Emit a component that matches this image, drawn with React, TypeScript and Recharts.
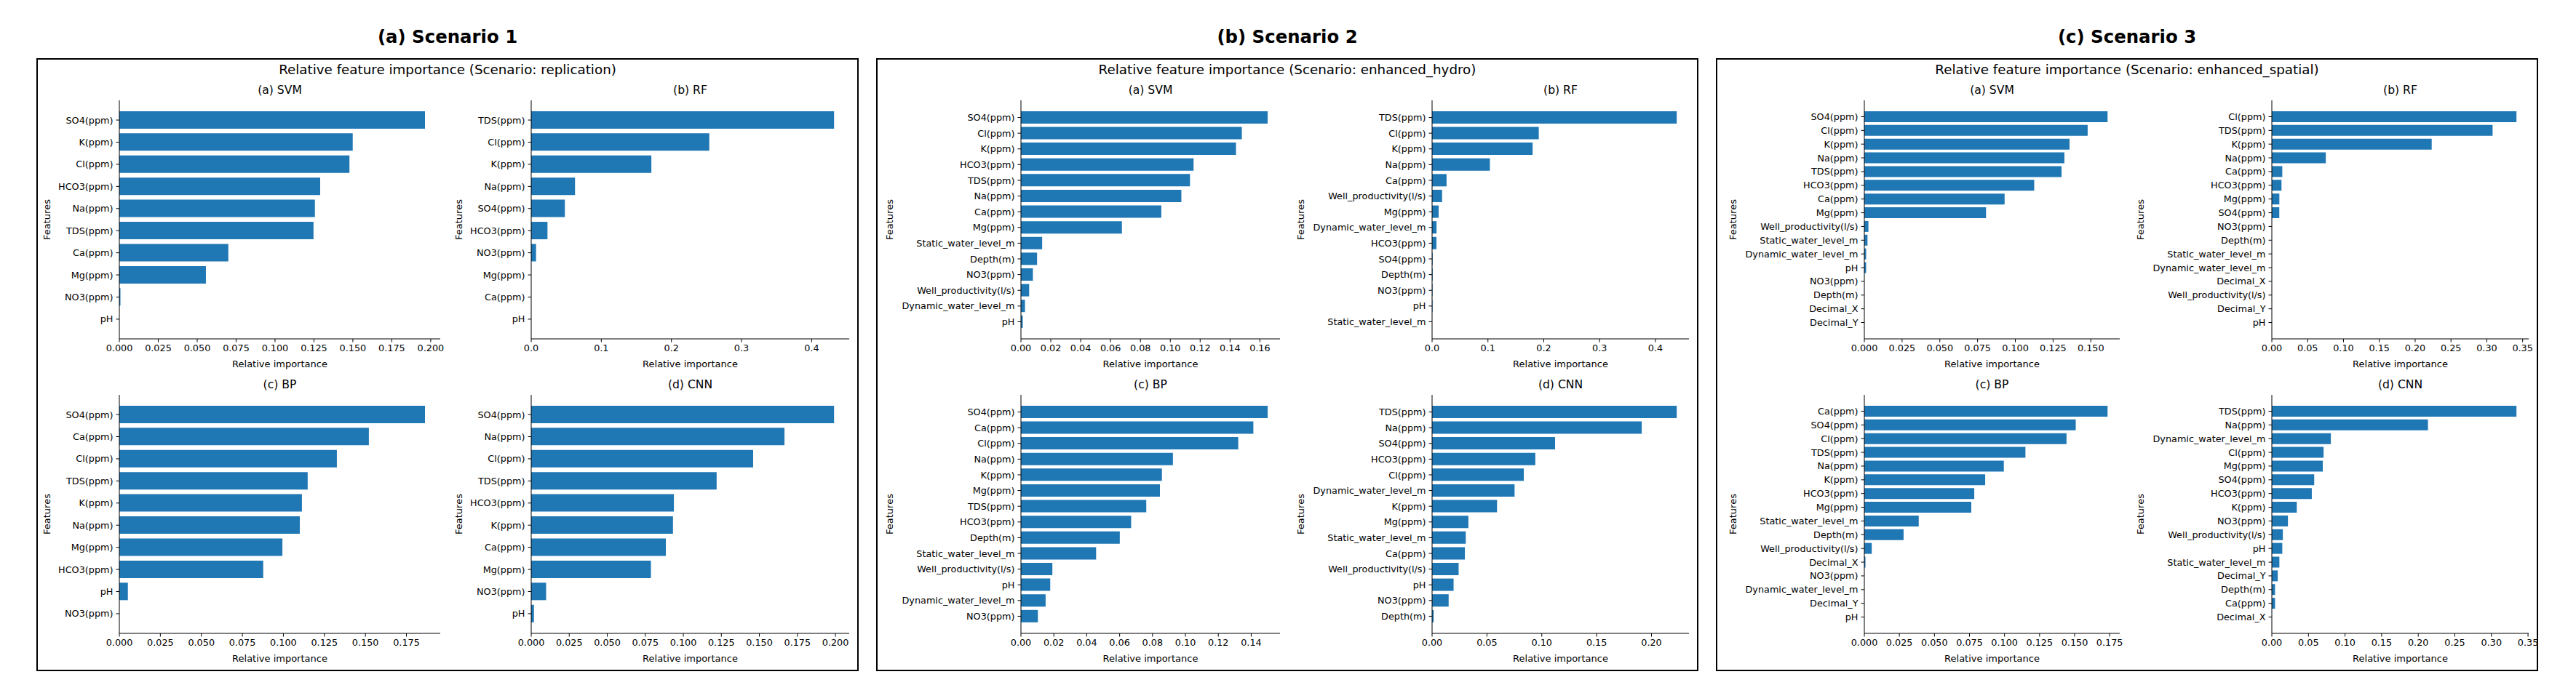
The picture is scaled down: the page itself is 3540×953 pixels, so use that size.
import React from 'react';
import { BarChart, Bar, XAxis, YAxis } from 'recharts';

// ---------- Scenario 1 (replication) ----------
const s1SvmFeatures = ['SO4(ppm)', 'K(ppm)', 'Cl(ppm)', 'HCO3(ppm)', 'Na(ppm)', 'TDS(ppm)', 'Ca(ppm)', 'Mg(ppm)', 'NO3(ppm)', 'pH'];
const s1SvmValues = [0.1963, 0.1499, 0.1478, 0.129, 0.1256, 0.1247, 0.07, 0.0556, 0.0007, 0];
const s1RfFeatures = ['TDS(ppm)', 'Cl(ppm)', 'K(ppm)', 'Na(ppm)', 'SO4(ppm)', 'HCO3(ppm)', 'NO3(ppm)', 'Mg(ppm)', 'Ca(ppm)', 'pH'];
const s1RfValues = [0.432, 0.254, 0.1714, 0.0625, 0.048, 0.0232, 0.0069, 0, 0, 0];
const s1BpFeatures = ['SO4(ppm)', 'Ca(ppm)', 'Cl(ppm)', 'TDS(ppm)', 'K(ppm)', 'Na(ppm)', 'Mg(ppm)', 'HCO3(ppm)', 'pH', 'NO3(ppm)'];
const s1BpValues = [0.1863, 0.1521, 0.1326, 0.1148, 0.1113, 0.11, 0.0994, 0.0877, 0.0052, 0];
const s1CnnFeatures = ['SO4(ppm)', 'Na(ppm)', 'Cl(ppm)', 'TDS(ppm)', 'HCO3(ppm)', 'K(ppm)', 'Ca(ppm)', 'Mg(ppm)', 'NO3(ppm)', 'pH'];
const s1CnnValues = [0.1991, 0.1665, 0.1459, 0.1219, 0.0938, 0.0932, 0.0885, 0.0787, 0.0098, 0.0018];

// ---------- Scenario 2 (enhanced_hydro) ----------
const s2SvmFeatures = ['SO4(ppm)', 'Cl(ppm)', 'K(ppm)', 'HCO3(ppm)', 'TDS(ppm)', 'Na(ppm)', 'Ca(ppm)', 'Mg(ppm)', 'Static_water_level_m', 'Depth(m)', 'NO3(ppm)', 'Well_productivity(l/s)', 'Dynamic_water_level_m', 'pH'];
const s2SvmValues = [0.1652, 0.1479, 0.144, 0.1156, 0.1132, 0.1074, 0.094, 0.0676, 0.0142, 0.0108, 0.008, 0.0055, 0.0027, 0.0012];
const s2RfFeatures = ['TDS(ppm)', 'Cl(ppm)', 'K(ppm)', 'Na(ppm)', 'Ca(ppm)', 'Well_productivity(l/s)', 'Mg(ppm)', 'Dynamic_water_level_m', 'HCO3(ppm)', 'SO4(ppm)', 'Depth(m)', 'NO3(ppm)', 'pH', 'Static_water_level_m'];
const s2RfValues = [0.438, 0.191, 0.18, 0.1035, 0.0259, 0.0179, 0.0118, 0.008, 0.0078, 0.001, 0.001, 0.0008, 0.0008, 0];
const s2BpFeatures = ['SO4(ppm)', 'Ca(ppm)', 'Cl(ppm)', 'Na(ppm)', 'K(ppm)', 'Mg(ppm)', 'TDS(ppm)', 'HCO3(ppm)', 'Depth(m)', 'Static_water_level_m', 'Well_productivity(l/s)', 'pH', 'Dynamic_water_level_m', 'NO3(ppm)'];
const s2BpValues = [0.15, 0.1413, 0.1321, 0.0924, 0.0857, 0.0845, 0.0762, 0.067, 0.0601, 0.0457, 0.0191, 0.0178, 0.015, 0.0103];
const s2CnnFeatures = ['TDS(ppm)', 'Na(ppm)', 'SO4(ppm)', 'HCO3(ppm)', 'Cl(ppm)', 'Dynamic_water_level_m', 'K(ppm)', 'Mg(ppm)', 'Static_water_level_m', 'Ca(ppm)', 'Well_productivity(l/s)', 'pH', 'NO3(ppm)', 'Depth(m)'];
const s2CnnValues = [0.223, 0.1911, 0.1121, 0.0941, 0.0836, 0.0752, 0.0592, 0.0331, 0.0307, 0.0299, 0.0242, 0.0196, 0.0151, 0.0014];

// ---------- Scenario 3 (enhanced_spatial) ----------
const s3SvmFeatures = ['SO4(ppm)', 'Cl(ppm)', 'K(ppm)', 'Na(ppm)', 'TDS(ppm)', 'HCO3(ppm)', 'Ca(ppm)', 'Mg(ppm)', 'Well_productivity(l/s)', 'Static_water_level_m', 'Dynamic_water_level_m', 'pH', 'NO3(ppm)', 'Depth(m)', 'Decimal_X', 'Decimal_Y'];
const s3SvmValues = [0.1611, 0.1479, 0.1359, 0.1325, 0.1306, 0.1125, 0.0929, 0.0806, 0.0027, 0.0021, 0.0012, 0.0012, 0, 0, 0, 0];
const s3RfFeatures = ['Cl(ppm)', 'TDS(ppm)', 'K(ppm)', 'Na(ppm)', 'Ca(ppm)', 'HCO3(ppm)', 'Mg(ppm)', 'SO4(ppm)', 'NO3(ppm)', 'Depth(m)', 'Static_water_level_m', 'Dynamic_water_level_m', 'Decimal_X', 'Well_productivity(l/s)', 'Decimal_Y', 'pH'];
const s3RfValues = [0.3414, 0.3081, 0.2231, 0.0753, 0.0146, 0.0135, 0.0105, 0.0104, 0, 0, 0, 0, 0, 0, 0, 0];
const s3BpFeatures = ['Ca(ppm)', 'SO4(ppm)', 'Cl(ppm)', 'TDS(ppm)', 'Na(ppm)', 'K(ppm)', 'HCO3(ppm)', 'Mg(ppm)', 'Static_water_level_m', 'Depth(m)', 'Well_productivity(l/s)', 'Decimal_X', 'NO3(ppm)', 'Dynamic_water_level_m', 'Decimal_Y', 'pH'];
const s3BpValues = [0.1735, 0.1508, 0.1442, 0.1149, 0.0995, 0.0862, 0.0784, 0.0763, 0.0388, 0.028, 0.0053, 0.0008, 0, 0, 0, 0];
const s3CnnFeatures = ['TDS(ppm)', 'Na(ppm)', 'Dynamic_water_level_m', 'Cl(ppm)', 'Mg(ppm)', 'SO4(ppm)', 'HCO3(ppm)', 'K(ppm)', 'NO3(ppm)', 'Well_productivity(l/s)', 'pH', 'Static_water_level_m', 'Decimal_Y', 'Depth(m)', 'Ca(ppm)', 'Decimal_X'];
const s3CnnValues = [0.3342, 0.2133, 0.0806, 0.0707, 0.0696, 0.0579, 0.0546, 0.0341, 0.022, 0.015, 0.0143, 0.0103, 0.0081, 0.0044, 0.0044, 0];

// ---------- Tick labels ----------
const s1SvmTicks = ['0.000', '0.025', '0.050', '0.075', '0.100', '0.125', '0.150', '0.175', '0.200'];
const s1RfTicks = ['0.0', '0.1', '0.2', '0.3', '0.4'];
const s1BpTicks = ['0.000', '0.025', '0.050', '0.075', '0.100', '0.125', '0.150', '0.175'];
const s1CnnTicks = ['0.000', '0.025', '0.050', '0.075', '0.100', '0.125', '0.150', '0.175', '0.200'];
const s2SvmTicks = ['0.00', '0.02', '0.04', '0.06', '0.08', '0.10', '0.12', '0.14', '0.16'];
const s2RfTicks = ['0.0', '0.1', '0.2', '0.3', '0.4'];
const s2BpTicks = ['0.00', '0.02', '0.04', '0.06', '0.08', '0.10', '0.12', '0.14'];
const s2CnnTicks = ['0.00', '0.05', '0.10', '0.15', '0.20'];
const s3SvmTicks = ['0.000', '0.025', '0.050', '0.075', '0.100', '0.125', '0.150'];
const s3RfTicks = ['0.00', '0.05', '0.10', '0.15', '0.20', '0.25', '0.30', '0.35'];
const s3BpTicks = ['0.000', '0.025', '0.050', '0.075', '0.100', '0.125', '0.150', '0.175'];
const s3CnnTicks = ['0.00', '0.05', '0.10', '0.15', '0.20', '0.25', '0.30', '0.35'];

const scenarioTitles = ['(a) Scenario 1', '(b) Scenario 2', '(c) Scenario 3'];
const scenarioNames = ['replication', 'enhanced_hydro', 'enhanced_spatial'];
const modelTitles = ['(a) SVM', '(b) RF', '(c) BP', '(d) CNN'];

const scenarios = [
  {
    features: [s1SvmFeatures, s1RfFeatures, s1BpFeatures, s1CnnFeatures],
    values: [s1SvmValues, s1RfValues, s1BpValues, s1CnnValues],
    ticks: [s1SvmTicks, s1RfTicks, s1BpTicks, s1CnnTicks],
  },
  {
    features: [s2SvmFeatures, s2RfFeatures, s2BpFeatures, s2CnnFeatures],
    values: [s2SvmValues, s2RfValues, s2BpValues, s2CnnValues],
    ticks: [s2SvmTicks, s2RfTicks, s2BpTicks, s2CnnTicks],
  },
  {
    features: [s3SvmFeatures, s3RfFeatures, s3BpFeatures, s3CnnFeatures],
    values: [s3SvmValues, s3RfValues, s3BpValues, s3CnnValues],
    ticks: [s3SvmTicks, s3RfTicks, s3BpTicks, s3CnnTicks],
  },
];

// ---------- Layout ----------
const FONT = '"DejaVu Sans", Verdana, sans-serif';
const BAR_COLOR = '#1f77b4';
const BOX_X = [50, 1204, 2358];
const BOX_Y = 80;
const BOX_W = 1130;
const BOX_H = 843;
const FRAME_LEFT = [[114, 680], [199, 764], [204, 764]];
const FRAME_RIGHT = [555, 1117];
const FRAME_TOP = [138, 543];
const FRAME_H = 328;
const LABEL_OFFSET = [100, 181, 181];
const TICK_FS = 12.8;

type SubProps = {
  title: string;
  features: string[];
  values: number[];
  ticks: string[];
  left: number;
  top: number;
  width: number;
  height: number;
  labelX: number;
};

function Subplot({ title, features, values, ticks, left, top, width, height, labelX }: SubProps) {
  const rows = features.map((f, i) => ({ feature: f, value: values[i] }));
  const n = rows.length;
  const xMax = Math.max(...values) * 1.05;
  const unit = height / ((n - 0.2) * 1.1);
  const pad = (0.05 * (n - 0.2) - 0.1) * unit;
  const yw = left - labelX - 10;
  const mT = 10;
  const mR = 30;
  const axisH = 30;
  const tickNums = ticks.map(Number);
  const tickStyle = { fill: '#000', fontSize: TICK_FS, fontFamily: FONT };
  return (
    <>
      <div
        style={{
          position: 'absolute',
          left: left + width / 2,
          top: top - 14,
          transform: 'translate(-50%, -50%)',
          fontSize: 15.6,
          fontFamily: FONT,
          whiteSpace: 'nowrap',
          color: '#000',
        }}
      >
        {title}
      </div>
      <div
        style={{
          position: 'absolute',
          left: labelX,
          top: top + height / 2,
          transform: 'translate(-50%, -50%) rotate(-90deg)',
          fontSize: 13,
          fontFamily: FONT,
          whiteSpace: 'nowrap',
          color: '#000',
        }}
      >
        Features
      </div>
      <div
        style={{
          position: 'absolute',
          left: left + width / 2,
          top: top + height + 34,
          transform: 'translate(-50%, -50%)',
          fontSize: 13,
          fontFamily: FONT,
          whiteSpace: 'nowrap',
          color: '#000',
        }}
      >
        Relative importance
      </div>
      <div style={{ position: 'absolute', left: left - yw, top: top - mT }}>
        <BarChart
          width={yw + width + mR}
          height={mT + height + axisH}
          data={rows}
          layout="vertical"
          margin={{ top: mT, right: mR, bottom: 0, left: 0 }}
          barCategoryGap="10%"
        >
          <XAxis
            type="number"
            domain={[0, xMax]}
            ticks={tickNums}
            tickFormatter={(v: number) => {
              const k = tickNums.indexOf(v);
              return k >= 0 ? ticks[k] : String(v);
            }}
            interval={0}
            height={axisH}
            tickSize={4.5}
            tickMargin={3}
            stroke="#000"
            tick={tickStyle}
            allowDataOverflow
          />
          <YAxis
            type="category"
            dataKey="feature"
            width={yw}
            interval={0}
            padding={{ top: pad, bottom: pad }}
            tickSize={4.5}
            tickMargin={4}
            stroke="#000"
            tick={tickStyle}
          />
          <XAxis
            xAxisId="frameTop"
            orientation="top"
            type="number"
            domain={[0, 1]}
            height={0}
            tick={false}
            tickLine={false}
            stroke="#000"
          />
          <YAxis
            yAxisId="frameRight"
            orientation="right"
            type="number"
            domain={[0, 1]}
            width={0}
            tick={false}
            tickLine={false}
            stroke="#000"
          />
          <Bar dataKey="value" fill={BAR_COLOR} isAnimationActive={false} />
        </BarChart>
      </div>
    </>
  );
}

export default function App() {
  return (
    <div
      style={{
        position: 'absolute',
        left: 0,
        top: 0,
        width: 3540,
        height: 953,
        background: '#fff',
        overflow: 'hidden',
      }}
    >
      {scenarios.map((sc, s) => {
        const bx = BOX_X[s];
        return (
          <React.Fragment key={s}>
            <div
              style={{
                position: 'absolute',
                left: bx + BOX_W / 2,
                top: 49.5,
                transform: 'translate(-50%, -50%)',
                fontSize: 24.4,
                fontWeight: 'bold',
                fontFamily: FONT,
                whiteSpace: 'nowrap',
                color: '#000',
              }}
            >
              {scenarioTitles[s]}
            </div>
            <div
              style={{
                position: 'absolute',
                left: bx,
                top: BOX_Y,
                width: BOX_W,
                height: BOX_H,
                border: '2px solid #000',
                boxSizing: 'border-box',
              }}
            />
            <div
              style={{
                position: 'absolute',
                left: bx + BOX_W / 2,
                top: 94.5,
                transform: 'translate(-50%, -50%)',
                fontSize: 18.3,
                fontFamily: FONT,
                whiteSpace: 'nowrap',
                color: '#000',
              }}
            >
              {`Relative feature importance (Scenario: ${scenarioNames[s]})`}
            </div>
            {[0, 1, 2, 3].map((m) => {
              const col = m % 2;
              const row = Math.floor(m / 2);
              const fl = bx + FRAME_LEFT[s][col];
              const fr = bx + FRAME_RIGHT[col];
              return (
                <Subplot
                  key={m}
                  title={modelTitles[m]}
                  features={sc.features[m]}
                  values={sc.values[m]}
                  ticks={sc.ticks[m]}
                  left={fl}
                  top={FRAME_TOP[row]}
                  width={fr - fl}
                  height={FRAME_H}
                  labelX={fl - LABEL_OFFSET[s]}
                />
              );
            })}
          </React.Fragment>
        );
      })}
    </div>
  );
}
